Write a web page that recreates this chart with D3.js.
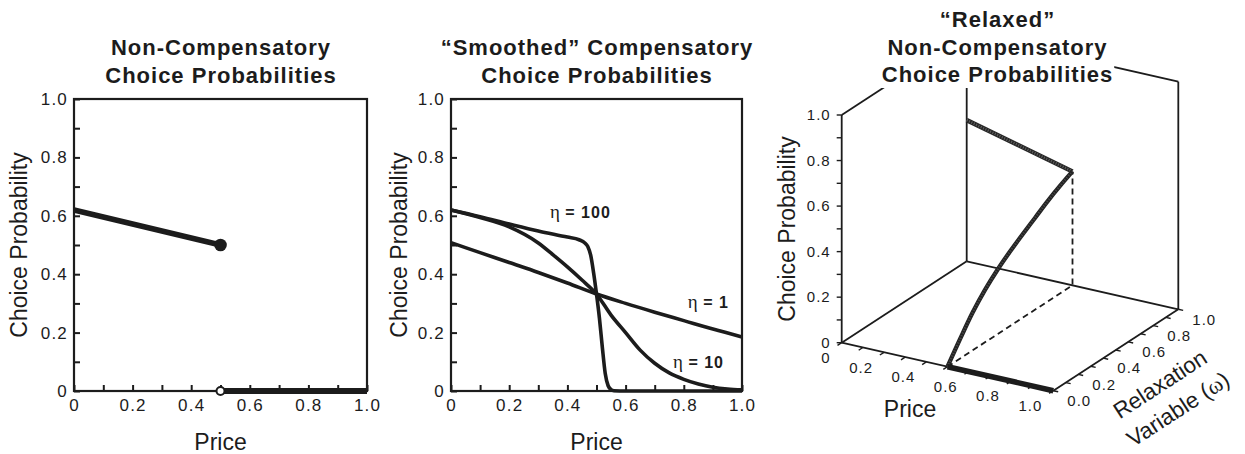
<!DOCTYPE html>
<html>
<head>
<meta charset="utf-8">
<script src="https://cdn.jsdelivr.net/npm/d3@7"></script>
<style>
  body { margin: 0; background: #fff; }
  svg text { font-family: "Liberation Sans", Arial, Helvetica, sans-serif; fill: #1c1c1c; }
</style>
</head>
<body>
<svg id="chart" width="1245" height="454"></svg>
<script>
// ---------- data ----------
const minorTicks = [0, 0.1, 0.2, 0.3, 0.4, 0.5, 0.6, 0.7, 0.8, 0.9, 1.0];
const majorTicks = [0, 0.2, 0.4, 0.6, 0.8, 1.0];
const majorLabels = ["0", "0.2", "0.4", "0.6", "0.8", "1.0"];
const omegaLabels = ["0.0", "0.2", "0.4", "0.6", "0.8", "1.0"];

// Non-compensatory: linear segment up to the cutoff, then zero
const ncPrice = [0, 0.5];
const ncProb = [0.62, 0.5];
const ncZeroPrice = [0.5, 1.0];
const ncZeroProb = [0, 0];

// Smoothed compensatory curves for three smoothing levels
const eta1Price = [0, 0.1, 0.2, 0.3, 0.4, 0.5, 0.6, 0.7, 0.8, 0.9, 1.0];
const eta1Prob = [0.508, 0.474, 0.44, 0.406, 0.37, 0.332, 0.30, 0.27, 0.241, 0.212, 0.185];

const eta10Price = [0, 0.1, 0.2, 0.3, 0.35, 0.4, 0.45, 0.5, 0.55, 0.6, 0.65, 0.7, 0.75, 0.8, 0.85, 0.9, 0.95, 1.0];
const eta10Prob = [0.62, 0.594, 0.562, 0.507, 0.467, 0.425, 0.38, 0.332, 0.26, 0.2, 0.14, 0.095, 0.062, 0.04, 0.024, 0.013, 0.007, 0.004];

const eta100Price = [0, 0.1, 0.2, 0.3, 0.4, 0.44, 0.46, 0.47, 0.48, 0.49, 0.5, 0.51, 0.52, 0.53, 0.54, 0.55, 0.56, 0.6, 0.8, 1.0];
const eta100Prob = [0.62, 0.597, 0.572, 0.548, 0.527, 0.518, 0.507, 0.495, 0.465, 0.405, 0.332, 0.25, 0.15, 0.06, 0.018, 0.005, 0.001, 0, 0, 0];

const etaLabels = ["100", "1", "10"];

// Relaxed non-compensatory surface traces
const relaxBackPrice = [0, 0.5];          // at omega = 1
const relaxBackProb = [0.62, 0.5];
const relaxOmega = [0, 0.1, 0.2, 0.3, 0.4, 0.5, 0.6, 0.7, 0.8, 0.9, 1.0];   // at price = 0.5
const relaxCutProb = [0, 0.085, 0.165, 0.23, 0.283, 0.327, 0.366, 0.403, 0.44, 0.472, 0.5];
const relaxZeroPrice = [0.5, 1.0];        // at omega = 0
const relaxCutPrice = 0.5;

// ---------- drawing ----------
const svg = d3.select("#chart");
const INK = "#1c1c1c";

function titleLines(g, lines, cx, baselines) {
  lines.forEach((t, i) => {
    g.append("text").attr("x", cx + 0.5).attr("y", baselines[i])
      .attr("text-anchor", "middle").attr("font-weight", "bold")
      .attr("font-size", 22).attr("letter-spacing", 1).text(t);
  });
}

function flatPanel(x0, x1, yTop, yBot, title, yLabelX) {
  const x = d3.scaleLinear().domain([0, 1]).range([x0, x1]);
  const y = d3.scaleLinear().domain([0, 1]).range([yBot, yTop]);
  const g = svg.append("g");
  const fmt = d => majorLabels[majorTicks.findIndex(m => Math.abs(m - d) < 1e-9)] || "";

  const yAxis = d3.axisLeft(y).tickValues(minorTicks).tickSize(-6).tickPadding(7).tickFormat(fmt);
  const xAxis = d3.axisBottom(x).tickValues(minorTicks).tickSize(-6).tickPadding(8).tickFormat(fmt);
  const ga = g.append("g").attr("transform", `translate(${x0},0)`).call(yAxis);
  const gb = g.append("g").attr("transform", `translate(0,${yBot})`).call(xAxis);
  [ga, gb].forEach(a => {
    a.select(".domain").remove();
    a.selectAll(".tick line").attr("stroke", INK).attr("stroke-width", 2);
    a.selectAll(".tick text").attr("font-size", 17).attr("letter-spacing", 1.2)
      .attr("fill", INK).style("font-family", '"Liberation Sans", Arial, sans-serif');
  });
  ga.selectAll(".tick text").attr("dx", 1);

  g.append("rect").attr("x", x0).attr("y", yTop).attr("width", x1 - x0).attr("height", yBot - yTop)
    .attr("fill", "none").attr("stroke", INK).attr("stroke-width", 2.2);

  titleLines(g, title, (x0 + x1) / 2, [55, 82.5]);
  g.append("text").attr("transform", `translate(${yLabelX},${(yTop + yBot) / 2}) rotate(-90)`)
    .attr("text-anchor", "middle").attr("font-size", 23).text("Choice Probability");
  g.append("text").attr("x", (x0 + x1) / 2).attr("y", 450)
    .attr("text-anchor", "middle").attr("font-size", 23).text("Price");
  return { g, x, y };
}

// Panel 1
{
  const { g, x, y } = flatPanel(74, 367, 99, 391,
    ["Non-Compensatory", "Choice Probabilities"], 26.5);
  const line = d3.line().x(d => x(d[0])).y(d => y(d[1]));
  g.append("path").datum(d3.zip(ncPrice, ncProb)).attr("d", line)
    .attr("fill", "none").attr("stroke", INK).attr("stroke-width", 5.5);
  g.append("path").datum(d3.zip(ncZeroPrice, ncZeroProb)).attr("d", line)
    .attr("fill", "none").attr("stroke", INK).attr("stroke-width", 6);
  g.append("circle").attr("cx", x(ncPrice[1])).attr("cy", y(ncProb[1])).attr("r", 6.3).attr("fill", INK);
  g.append("circle").attr("cx", x(ncZeroPrice[0])).attr("cy", y(ncZeroProb[0])).attr("r", 4)
    .attr("fill", "#fff").attr("stroke", INK).attr("stroke-width", 2);
}

// Panel 2
{
  const { g, x, y } = flatPanel(451, 742, 99, 391,
    ["\u201CSmoothed\u201D Compensatory", "Choice Probabilities"], 406.5);
  const line = d3.line().x(d => x(d[0])).y(d => y(d[1])).curve(d3.curveMonotoneX);
  [[eta1Price, eta1Prob], [eta10Price, eta10Prob], [eta100Price, eta100Prob]].forEach(([p, v]) => {
    g.append("path").datum(d3.zip(p, v)).attr("d", line)
      .attr("fill", "none").attr("stroke", INK).attr("stroke-width", 3.6)
      .attr("stroke-linejoin", "round");
  });
  const labelAt = [[0.34, 0.592], [0.814, 0.284], [0.763, 0.079]];
  etaLabels.forEach((t, i) => {
    const tx = g.append("text").attr("x", x(labelAt[i][0])).attr("y", y(labelAt[i][1]));
    tx.append("tspan").style("font-family", '"Liberation Serif", "Times New Roman", serif')
      .attr("font-size", 19).text("\u03B7");
    tx.append("tspan").attr("font-weight", "bold").attr("font-size", 16)
      .attr("letter-spacing", 1).text(" = " + t);
  });
}

// Panel 3: oblique 3-D box (price, omega, probability)
{
  const g = svg.append("g");
  const origin = [841.7, 342.7];
  const priceX = d3.scaleLinear().domain([0, 1]).range([0, 211.6]);
  const priceY = d3.scaleLinear().domain([0, 1]).range([0, 48]);
  const omegaX = d3.scaleLinear().domain([0, 1]).range([0, 125]);
  const omegaY = d3.scaleLinear().domain([0, 1]).range([0, -81.4]);
  const probY = d3.scaleLinear().domain([0, 1]).range([0, -227.7]);
  const proj = (p, w, c) => [origin[0] + priceX(p) + omegaX(w), origin[1] + priceY(p) + omegaY(w) + probY(c)];

  const edges = [
    [[0, 0, 0], [0, 0, 1]], [[0, 0, 0], [1, 0, 0]], [[0, 0, 0], [0, 1, 0]],
    [[0, 1, 0], [1, 1, 0]], [[1, 0, 0], [1, 1, 0]], [[0, 1, 0], [0, 1, 1]],
    [[1, 1, 0], [1, 1, 1]], [[0, 0, 1], [0, 1, 1]], [[0, 1, 1], [1, 1, 1]]
  ];
  const seg = d3.line();
  edges.forEach(([a, b]) => {
    g.append("path").attr("d", seg([proj(...a), proj(...b)]))
      .attr("stroke", INK).attr("stroke-width", 1.8).attr("fill", "none");
  });

  // probability axis ticks and labels
  minorTicks.forEach(t => {
    const [px, py] = proj(0, 0, t);
    g.append("line").attr("x1", px).attr("y1", py).attr("x2", px - 5).attr("y2", py)
      .attr("stroke", INK).attr("stroke-width", 1.4);
  });
  majorTicks.forEach((t, i) => {
    const [px, py] = proj(0, 0, t);
    g.append("text").attr("x", px - 11).attr("y", py).attr("dy", "0.35em")
      .attr("text-anchor", "end").attr("font-size", 15).attr("letter-spacing", 1).text(majorLabels[i]);
  });
  // price axis ticks and labels (front edge)
  const wl = Math.hypot(125, 81.4);
  const wu = [125 / wl, -81.4 / wl];
  minorTicks.forEach(t => {
    const [px, py] = proj(t, 0, 0);
    g.append("line").attr("x1", px).attr("y1", py).attr("x2", px - wu[0] * 5).attr("y2", py - wu[1] * 5)
      .attr("stroke", INK).attr("stroke-width", 1.4);
  });
  majorTicks.forEach((t, i) => {
    const [px, py] = proj(t, 0, 0);
    g.append("text").attr("x", px - 11).attr("y", py + 15).attr("dy", "0.35em")
      .attr("text-anchor", "end").attr("font-size", 15).attr("letter-spacing", 1).text(majorLabels[i]);
  });
  // omega axis ticks and labels (right floor edge)
  const pl = Math.hypot(211.6, 48);
  const pu = [211.6 / pl, 48 / pl];
  minorTicks.forEach(t => {
    const [px, py] = proj(1, t, 0);
    g.append("line").attr("x1", px).attr("y1", py).attr("x2", px + pu[0] * 5).attr("y2", py + pu[1] * 5)
      .attr("stroke", INK).attr("stroke-width", 1.4);
  });
  majorTicks.forEach((t, i) => {
    const [px, py] = proj(1, t, 0);
    g.append("text").attr("x", px + 14).attr("y", py + 10).attr("dy", "0.35em")
      .attr("text-anchor", "start").attr("font-size", 15).attr("letter-spacing", 1).text(omegaLabels[i]);
  });

  // dashed guides at the cutoff price
  const guide = [proj(relaxCutPrice, 0, 0), proj(relaxCutPrice, 1, 0),
                 proj(relaxCutPrice, 1, relaxCutProb[relaxCutProb.length - 1])];
  g.append("path").attr("d", seg(guide)).attr("fill", "none").attr("stroke", INK)
    .attr("stroke-width", 1.8).attr("stroke-dasharray", "6,4");

  // data traces
  const back = d3.zip(relaxBackPrice, relaxBackProb).map(([p, c]) => proj(p, 1, c));
  const cut = d3.zip(relaxOmega, relaxCutProb).map(([w, c]) => proj(relaxCutPrice, w, c));
  const zero = relaxZeroPrice.map(p => proj(p, 0, 0));
  const smooth = d3.line().curve(d3.curveCatmullRom);
  g.append("path").attr("d", seg(back)).attr("fill", "none").attr("stroke", "#262626").attr("stroke-width", 4.5);
  g.append("path").attr("d", seg(back)).attr("fill", "none").attr("stroke", "#fff")
    .attr("stroke-width", 2.6).attr("stroke-dasharray", "1,1.6").attr("opacity", 0.28);
  g.append("path").attr("d", smooth(cut)).attr("fill", "none").attr("stroke", "#222").attr("stroke-width", 4.3);
  g.append("path").attr("d", smooth(cut)).attr("fill", "none").attr("stroke", "#fff")
    .attr("stroke-width", 2.4).attr("stroke-dasharray", "1,1.8").attr("opacity", 0.18);
  g.append("path").attr("d", seg(zero)).attr("fill", "none").attr("stroke", INK).attr("stroke-width", 5.5);

  // title with a white backing that masks the box edges behind it
  const tg = g.append("g");
  const cover = tg.append("rect").attr("fill", "#fff");
  titleLines(tg, ["\u201CRelaxed\u201D", "Non-Compensatory", "Choice Probabilities"], 997, [27, 54.5, 82]);
  const bb = tg.node().getBBox();
  cover.attr("x", bb.x - 1).attr("y", bb.y - 2).attr("width", bb.width + 2).attr("height", bb.height + 3);

  // axis titles
  g.append("text").attr("transform", "translate(795,229) rotate(-90)")
    .attr("text-anchor", "middle").attr("font-size", 23).text("Choice Probability");
  g.append("text").attr("x", 910).attr("y", 416.5).attr("text-anchor", "middle")
    .attr("font-size", 23).text("Price");
  const ang = Math.atan2(-81.4, 125) * 180 / Math.PI;
  g.append("text").attr("transform", `translate(1160,384) rotate(${ang})`)
    .attr("text-anchor", "middle").attr("dy", "0.35em").attr("font-size", 22.5).text("Relaxation");
  const v = g.append("text").attr("transform", `translate(1178,409) rotate(${ang})`)
    .attr("text-anchor", "middle").attr("dy", "0.35em").attr("font-size", 22.5);
  v.append("tspan").text("Variable (");
  v.append("tspan").style("font-family", '"Liberation Serif", "Times New Roman", serif').text("\u03C9");
  v.append("tspan").text(")");
}
</script>
</body>
</html>
